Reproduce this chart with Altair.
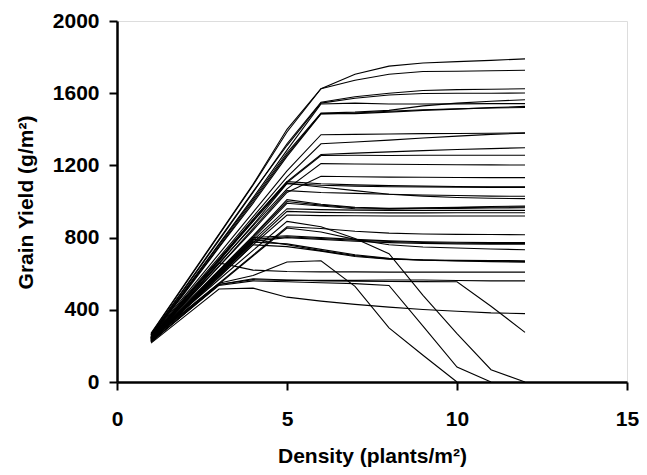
import altair as alt
import pandas as pd

density = [1, 2, 3, 4, 5, 6, 7, 8, 9, 10, 11, 12]

# grain yield (g/m2) per simulated cultivar/environment, at densities 1..12
line_01 = [270, 545, 820, 1095, 1400, 1625, 1705, 1750, 1767, 1775, 1782, 1790]
line_02 = [265, 540, 815, 1090, 1385, 1625, 1672, 1705, 1720, 1722, 1724, 1727]
line_03 = [260, 520, 785, 1050, 1320, 1550, 1580, 1600, 1615, 1620, 1622, 1625]
line_04 = [262, 525, 790, 1055, 1310, 1545, 1572, 1590, 1598, 1600, 1600, 1601]
line_05 = [255, 505, 760, 1010, 1270, 1490, 1495, 1505, 1530, 1545, 1555, 1564]
line_06 = [258, 510, 765, 1020, 1285, 1540, 1545, 1540, 1540, 1541, 1542, 1542]
line_07 = [252, 500, 750, 1000, 1260, 1487, 1487, 1495, 1505, 1512, 1520, 1527]
line_08 = [250, 495, 745, 990, 1250, 1485, 1490, 1500, 1508, 1514, 1518, 1521]
line_09 = [250, 480, 710, 940, 1170, 1370, 1372, 1374, 1376, 1377, 1378, 1380]
line_10 = [245, 470, 690, 915, 1135, 1320, 1330, 1340, 1352, 1362, 1372, 1378]
line_11 = [248, 465, 680, 900, 1110, 1260, 1268, 1275, 1282, 1288, 1293, 1298]
line_12 = [245, 460, 675, 890, 1105, 1255, 1256, 1255, 1256, 1256, 1256, 1256]
line_13 = [242, 450, 660, 865, 1070, 1210, 1208, 1206, 1205, 1204, 1203, 1202]
line_14 = [240, 440, 640, 840, 1050, 1140, 1137, 1135, 1134, 1133, 1132, 1132]
line_15 = [245, 460, 680, 900, 1110, 1098, 1092, 1088, 1085, 1083, 1082, 1082]
line_16 = [243, 455, 670, 890, 1100, 1090, 1085, 1082, 1080, 1079, 1078, 1078]
line_17 = [240, 440, 640, 850, 1060, 1050, 1045, 1040, 1036, 1033, 1030, 1029]
line_18 = [242, 445, 655, 870, 1100, 1080, 1060, 1040, 1030, 1022, 1018, 1016]
line_19 = [240, 430, 620, 810, 1010, 985, 968, 962, 965, 968, 972, 975]
line_20 = [238, 425, 615, 805, 1000, 980, 965, 960, 963, 966, 968, 970]
line_21 = [236, 420, 608, 795, 990, 975, 960, 958, 960, 962, 964, 965]
line_22 = [235, 415, 600, 785, 960, 955, 952, 950, 950, 951, 951, 951]
line_23 = [233, 410, 590, 770, 945, 940, 938, 937, 937, 938, 938, 938]
line_24 = [232, 405, 580, 760, 925, 922, 921, 920, 920, 920, 920, 920]
line_25 = [235, 391, 547, 703, 860, 850, 835, 825, 820, 818, 817, 816]
line_26 = [232, 387, 542, 698, 853, 831, 790, 760, 748, 742, 737, 733]
line_27 = [230, 420, 610, 800, 810, 800, 790, 782, 777, 774, 772, 772]
line_28 = [228, 415, 602, 790, 805, 795, 785, 778, 773, 770, 768, 768]
line_29 = [226, 410, 595, 780, 800, 790, 780, 772, 768, 765, 764, 763]
line_30 = [225, 413, 601, 790, 760, 728, 700, 682, 676, 672, 670, 668]
line_31 = [224, 408, 591, 775, 765, 735, 705, 685, 675, 670, 667, 664]
line_32 = [226, 404, 582, 760, 750, 725, 695, 680, 676, 674, 673, 672]
line_33 = [228, 444, 660, 620, 612, 610, 610, 609, 609, 609, 609, 609]
line_34 = [222, 381, 540, 567, 563, 563, 563, 565, 565, 562, 560, 560]
line_35 = [220, 380, 540, 572, 565, 560, 558, 557, 556, 555, 420, 275]
line_36 = [215, 365, 515, 520, 470, 448, 430, 415, 402, 392, 383, 379]
line_37 = [240, 395, 547, 590, 665, 672, 530, 300, 148, 0]
line_38 = [225, 380, 535, 560, 555, 550, 545, 535, 310, 83, 0]
line_39 = [245, 406, 568, 729, 890, 860, 795, 711, 480, 268, 68, 0]

series = {
    "01": line_01, "02": line_02, "03": line_03, "04": line_04, "05": line_05,
    "06": line_06, "07": line_07, "08": line_08, "09": line_09, "10": line_10,
    "11": line_11, "12": line_12, "13": line_13, "14": line_14, "15": line_15,
    "16": line_16, "17": line_17, "18": line_18, "19": line_19, "20": line_20,
    "21": line_21, "22": line_22, "23": line_23, "24": line_24, "25": line_25,
    "26": line_26, "27": line_27, "28": line_28, "29": line_29, "30": line_30,
    "31": line_31, "32": line_32, "33": line_33, "34": line_34, "35": line_35,
    "36": line_36, "37": line_37, "38": line_38, "39": line_39,
}

rows = []
for name, vals in series.items():
    for d, v in zip(density, vals):
        rows.append({"density": d, "yield": v, "series": name})
df = pd.DataFrame(rows)

FONT = "Liberation Sans"
PLOT_W = 510

chart = alt.Chart(df).mark_line(color="black", strokeWidth=1.1).encode(
    x=alt.X(
        "density:Q",
        scale=alt.Scale(domain=[0, 15], nice=False, zero=False),
        axis=alt.Axis(
            values=[0, 5, 10, 15],
            format="d",
            grid=False,
            tickSize=8,
            tickWidth=2,
            tickColor="black",
            domainColor="black",
            domainWidth=2.5,
            labelFont=FONT,
            labelFontWeight="bold",
            labelFontSize=21,
            labelColor="black",
            labelPadding=35,
            labelBaseline="alphabetic",
            labelFlush=False,
            labelOverlap=False,
            title="Density (plants/m²)",
            titleFont=FONT,
            titleFontWeight="bold",
            titleFontSize=21,
            titleColor="black",
            titleX=PLOT_W / 2,
            titleY=80,
            titleAlign="center",
            titleBaseline="alphabetic",
        ),
    ),
    y=alt.Y(
        "yield:Q",
        scale=alt.Scale(domain=[0, 2000], nice=False),
        axis=alt.Axis(
            values=[0, 400, 800, 1200, 1600, 2000],
            format="d",
            grid=False,
            tickSize=8,
            tickWidth=2,
            tickColor="black",
            domainColor="black",
            domainWidth=2.5,
            labelFont=FONT,
            labelFontWeight="bold",
            labelFontSize=21,
            labelColor="black",
            labelPadding=10,
            labelOverlap=False,
            title="Grain Yield (g/m²)",
            titleFont=FONT,
            titleFontWeight="bold",
            titleFontSize=21,
            titleColor="black",
            titleAngle=270,
            titleX=-85,
            titleY=181,
            titleAlign="center",
            titleBaseline="alphabetic",
        ),
    ),
    detail="series:N",
).properties(
    width=PLOT_W,
    height=361,
    autosize=alt.AutoSizeParams(type="none"),
    padding={"left": 109, "top": 13, "right": 12, "bottom": 85},
).configure_view(
    stroke="black",
    strokeWidth=2.5,
).configure(background="white")

chart.save("out.html", embed_options={"renderer": "svg", "actions": False})
